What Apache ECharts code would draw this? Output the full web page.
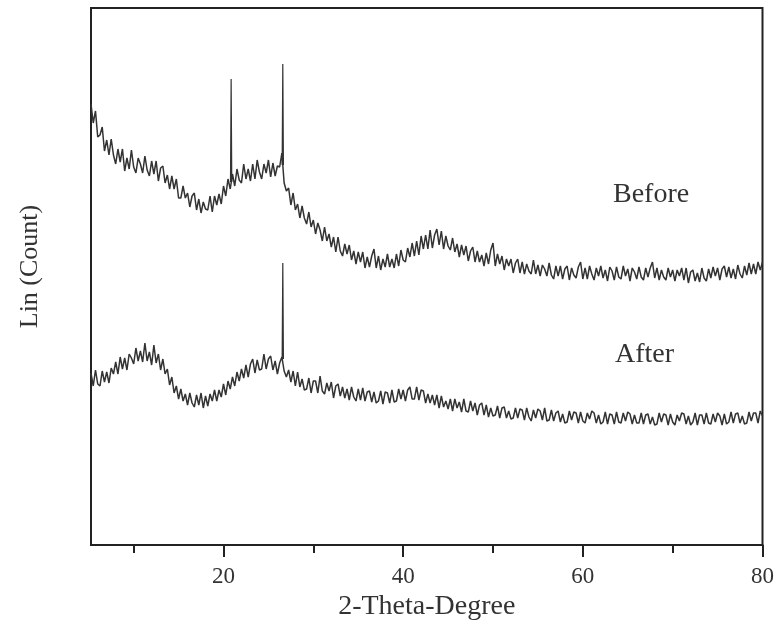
<!DOCTYPE html>
<html>
<head>
<meta charset="utf-8">
<script src="https://cdn.jsdelivr.net/npm/echarts@6/dist/echarts.min.js"></script>
<style>
html,body{margin:0;padding:0;background:#fff;}
#chart{width:777px;height:631px;}
</style>
</head>
<body>
<div id="chart"></div>
<script>
// Scan grid (2-theta, degrees)
const scanStart = 5.25;
const scanStep = 0.25;

// Intensity, "Before" pattern (arbitrary counts)
const beforeCounts = [
441,422,434,408, 410,418,394,405, 390,406,390,381, 396,383,396,374, 387,376,395,378,
372,387,381,372, 389,375,369,384, 371,384,364,377, 379,362,370,356, 369,356,366,347,
347,359,347,352, 338,349,352,335, 346,332,343,336, 335,349,333,349, 340,351,341,359,
349,366,356,371, 359,376,365,362, 381,366,376,364, 381,366,385,373, 366,381,372,385,
368,382,369,379, 378,392,362,354, 357,340,352,335, 341,327,339,327, 321,333,318,325,
311,322,315,304, 318,304,311,298, 308,293,308,294, 289,301,291,300, 285,294,281,293,
283,293,277,288, 278,289,296,277, 289,275,286,278, 291,278,286,277, 291,279,295,285,
283,297,288,302, 289,304,290,309, 296,310,296,315, 297,310,316,300, 314,296,309,299,
295,307,293,301, 288,300,290,299, 284,294,298,283, 294,283,290,279, 292,281,295,302,
279,291,281,289, 275,286,279,286, 272,282,286,272, 283,271,281,274, 271,285,271,280,
269,280,276,269, 282,270,266,279, 269,279,266,276, 279,265,277,270, 267,278,283,266,
277,266,279,271, 265,277,269,279, 267,275,264,278, 274,265,278,268, 266,279,269,276,
264,277,273,266, 278,268,265,277, 268,277,283,267, 277,265,275,268, 265,277,268,275,
264,275,269,277, 265,277,262,273, 275,264,272,263, 277,267,264,276, 267,278,269,277,
265,276,279,268, 278,267,276,266, 280,271,267,279, 270,282,271,281, 271,283,275,283
];

// Intensity, "After" pattern (arbitrary counts)
const afterCounts = [
172,159,175,161, 159,174,163,173, 162,177,171,183, 171,188,176,187, 175,191,187,181,
197,184,194,183, 202,184,193,180, 200,182,191,175, 186,171,176,160, 168,152,159,146,
156,144,151,140, 152,142,138,150, 140,152,137,149, 139,151,144,155, 144,155,148,161,
150,164,156,168, 159,173,164,176, 167,180,168,181, 186,172,185,175, 176,191,176,186,
189,175,184,171, 182,188,174,168, 175,163,174,159, 173,158,166,155, 156,167,152,164,
164,152,169,154, 151,162,154,163, 147,159,161,149, 158,147,156,145, 158,148,144,156,
145,157,144,153, 154,143,153,142, 144,154,141,153, 152,142,155,143, 144,156,146,155,
144,155,158,146, 146,158,145,155, 154,142,151,142, 150,140,150,137, 149,138,144,136,
146,134,146,137, 143,133,146,134, 133,144,134,142, 130,140,142,130, 140,128,137,129,
130,139,127,137, 138,127,134,126, 127,137,127,136, 135,125,137,128, 124,135,127,136,
134,125,137,124, 125,135,124,132, 134,123,131,122, 123,134,125,133, 132,122,133,124,
122,132,126,134, 132,122,130,121, 123,133,121,131, 130,121,133,123, 122,132,124,133,
131,121,130,122, 122,132,121,130, 131,121,128,120, 121,132,123,131, 130,120,131,123,
120,130,124,132, 131,121,129,120, 123,132,120,130, 130,121,132,122, 121,131,123,132,
129,120,131,121, 123,133,122,131, 132,122,129,121, 122,133,124,132, 132,122,134,129
];

// Sharp reflections (angle, peak top, foot level)
const beforePeakAngles = [20.85, 26.6];
const beforePeakTops = [466, 481];
const beforePeakFeet = [363, 380];
const afterPeakAngles = [26.6];
const afterPeakTops = [282];
const afterPeakFeet = [186];

const majorTicks = [20, 40, 60, 80];
const minorTicks = [10, 30, 50, 70];

const lineColor = '#333333';
const axisColor = '#222';
const serif = '"Liberation Serif", "Times New Roman", serif';

function toPairs(counts) {
  return counts.map((c, i) => [scanStart + i * scanStep, c]);
}
function spikePairs(angles, tops, feet) {
  const out = [];
  angles.forEach((a, i) => {
    out.push([a - 0.07, feet[i]], [a, tops[i]], [a + 0.07, feet[i]], null);
  });
  return out;
}

const chart = echarts.init(document.getElementById('chart'), null, {renderer: 'canvas'});
const lineSeries = (data, w) => ({
  type: 'line', data: data, showSymbol: false, symbol: 'none',
  lineStyle: {color: lineColor, width: w}, silent: true, animation: false,
  connectNulls: false
});

chart.setOption({
  animation: false,
  backgroundColor: '#fff',
  grid: {left: 91, right: 12, top: 8, bottom: 86, show: true,
         borderColor: axisColor, borderWidth: 2, backgroundColor: 'transparent'},
  xAxis: [{
    type: 'value', min: 5.25, max: 80, position: 'bottom',
    splitLine: {show: false},
    axisLine: {show: true, lineStyle: {color: axisColor, width: 2}},
    axisTick: {show: true, inside: false, length: 12, customValues: majorTicks,
               lineStyle: {color: axisColor, width: 2}},
    axisLabel: {show: true, customValues: majorTicks, margin: 20,
                fontFamily: serif, fontSize: 23, color: '#333'},
    name: '2-Theta-Degree', nameLocation: 'middle', nameGap: 46,
    nameTextStyle: {fontFamily: serif, fontSize: 28, color: '#333'}
  }, {
    type: 'value', min: 5.25, max: 80, position: 'bottom',
    splitLine: {show: false},
    axisLine: {show: false},
    axisTick: {show: true, inside: false, length: 8, customValues: minorTicks,
               lineStyle: {color: axisColor, width: 2}},
    axisLabel: {show: false}
  }],
  yAxis: {
    type: 'value', min: 0, max: 537,
    splitLine: {show: false},
    axisLine: {show: true, lineStyle: {color: axisColor, width: 2}},
    axisTick: {show: false},
    axisLabel: {show: false},
    name: 'Lin (Count)', nameLocation: 'middle', nameGap: 48,
    nameTextStyle: {fontFamily: serif, fontSize: 26, color: '#333', padding: [0, 0, 0, 20]}
  },
  series: [
    lineSeries(toPairs(beforeCounts), 1.5),
    lineSeries(spikePairs(beforePeakAngles, beforePeakTops, beforePeakFeet), 1.2),
    lineSeries(toPairs(afterCounts), 1.5),
    lineSeries(spikePairs(afterPeakAngles, afterPeakTops, afterPeakFeet), 1.2)
  ],
  graphic: [
    {type: 'text', left: 613, top: 181,
     style: {text: 'Before', font: '28px ' + serif, fill: '#333'}},
    {type: 'text', left: 615, top: 341,
     style: {text: 'After', font: '28px ' + serif, fill: '#333'}}
  ]
});
</script>
</body>
</html>
